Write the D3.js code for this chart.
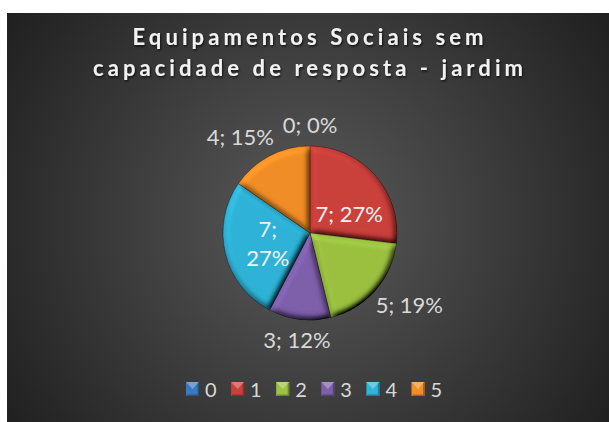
<!DOCTYPE html>
<meta charset="utf-8">
<style>

body {
  margin: 0;
  background: #fff;
}

svg {
  display: block;
  font-family: Lato, "Open Sans", sans-serif;
}

</style>
<svg width="609" height="422"></svg>
<script src="https://d3js.org/d3.v7.min.js"></script>
<script>

var categories = ["0", "1", "2", "3", "4", "5"],
    values = [0, 7, 5, 3, 7, 4],
    colors = ["#3a78c2", "#cc403c", "#9cc241", "#7e5fab", "#2fb4d9", "#f28e26"],
    titleLines = ["Equipamentos Sociais sem", "capacidade de resposta - jardim"];

// where Excel's "best fit" put each label
var labelInside = [false, true, false, false, true, false],
    labelTurn = [0, 16, 0, 0, 0, 0],
    labelNudge = [0, 0, 0, 3, 0, -8],
    labelWrap = [false, false, false, false, true, false];

var svg = d3.select("svg"),
    width = +svg.attr("width"),
    height = +svg.attr("height");

var cx = 310, cy = 233, radius = 87;

var defs = svg.append("defs");

var bg = defs.append("radialGradient")
    .attr("id", "bg")
    .attr("gradientUnits", "userSpaceOnUse")
    .attr("cx", 308).attr("cy", 222).attr("r", 370);
bg.append("stop").attr("offset", 0).attr("stop-color", "#5a5a5a");
bg.append("stop").attr("offset", 1).attr("stop-color", "#1f1f1f");

var bevel = defs.append("filter")
    .attr("id", "bevel")
    .attr("x", "-10%").attr("y", "-10%")
    .attr("width", "120%").attr("height", "120%");
bevel.append("feGaussianBlur")
    .attr("in", "SourceAlpha")
    .attr("stdDeviation", 3)
    .attr("result", "blur");
bevel.append("feDiffuseLighting")
    .attr("in", "blur")
    .attr("surfaceScale", 6)
    .attr("diffuseConstant", 1)
    .attr("lighting-color", "#fff")
    .attr("result", "light")
  .append("feDistantLight")
    .attr("azimuth", 235)
    .attr("elevation", 55);
bevel.append("feComposite")
    .attr("in", "SourceGraphic")
    .attr("in2", "light")
    .attr("operator", "arithmetic")
    .attr("k1", 1.2).attr("k2", 0).attr("k3", 0).attr("k4", 0);

var shadow = defs.append("filter")
    .attr("id", "shadow")
    .attr("x", "-10%").attr("y", "-30%")
    .attr("width", "120%").attr("height", "160%");
shadow.append("feDropShadow")
    .attr("dx", 1).attr("dy", 1.5)
    .attr("stdDeviation", 1.2)
    .attr("flood-color", "#000")
    .attr("flood-opacity", 0.7);

svg.append("rect")
    .attr("x", 7)
    .attr("y", 13)
    .attr("width", width - 7)
    .attr("height", height - 13)
    .attr("fill", "url(#bg)");

// title
var title = svg.append("g")
    .attr("filter", "url(#shadow)")
    .attr("fill", "#f2f2f2")
    .attr("font-weight", "bold")
    .attr("font-size", 22)
    .attr("text-anchor", "middle");

title.selectAll("text")
  .data(titleLines)
  .enter().append("text")
    .attr("x", 308)
    .attr("y", function(d, i) { return 45 + i * 31; })
    .attr("textLength", function(d, i) { return i ? 430 : 351; })
    .attr("lengthAdjust", "spacing")
    .text(function(d) { return d; });

// pie
var total = d3.sum(values),
    percent = d3.format(".0%");

var pie = d3.pie()
    .sort(null)
    .value(function(d) { return d; });

var arc = d3.arc()
    .innerRadius(0)
    .outerRadius(radius);

var arcs = pie(values);

var g = svg.append("g")
    .attr("transform", "translate(" + cx + "," + cy + ")");

g.selectAll("path")
  .data(arcs)
  .enter().append("path")
    .attr("d", arc)
    .attr("fill", function(d, i) { return colors[i]; })
    .attr("stroke", "rgba(0,0,0,0.35)")
    .attr("stroke-width", 0.8)
    .attr("filter", "url(#bevel)");

var label = g.selectAll(".label")
  .data(arcs)
  .enter().append("text")
    .attr("class", "label")
    .attr("font-size", 22)
    .attr("text-anchor", "middle")
    .attr("fill", function(d, i) { return labelInside[i] ? "#f2f2f2" : "#d9d9d9"; });

label.each(function(d, i) {
  var t = d3.select(this),
      txt = values[i] + "; " + percent(values[i] / total),
      a = (d.startAngle + d.endAngle) / 2 + labelTurn[i] * Math.PI / 180,
      s = Math.sin(a), c = Math.cos(a), x, y;

  if (labelWrap[i]) {
    t.selectAll("tspan")
      .data(txt.split(" "))
      .enter().append("tspan")
        .attr("x", 0)
        .attr("dy", function(p, j) { return j ? 29.5 : "0.36em"; })
        .text(function(p) { return p; });
  } else {
    t.text(txt);
  }

  if (labelInside[i]) {
    x = s * radius * 0.5;
    y = -c * radius * 0.5;
  } else {
    var w = this.getComputedTextLength();
    x = s * (radius + 12) + s * w / 2 + labelNudge[i];
    y = -c * (radius + 12) - c * 9;
  }

  if (labelWrap[i]) {
    t.attr("transform", "translate(" + x + "," + (y - 14.75) + ")");
  } else {
    t.attr("x", x).attr("y", y).attr("dy", "0.36em");
  }
});

// legend
var lx = d3.scaleBand()
    .domain(categories)
    .range([186, 186 + 45.1 * categories.length]);

var legend = svg.selectAll(".legend")
  .data(categories)
  .enter().append("g")
    .attr("class", "legend")
    .attr("transform", function(d) { return "translate(" + lx(d) + ",382)"; });

legend.append("rect")
    .attr("width", 13)
    .attr("height", 14)
    .attr("fill", function(d, i) { return colors[i]; });

legend.append("path")
    .attr("d", "M0,0L13,0L6.5,7Z")
    .attr("fill", function(d, i) { return d3.interpolateRgb(colors[i], "#fff")(0.3); });

legend.append("path")
    .attr("d", "M0,14L13,14L13,0L11.5,1.5L11.5,12.5L1.5,12.5Z")
    .attr("fill", function(d, i) { return d3.interpolateRgb(colors[i], "#000")(0.3); });

legend.append("text")
    .attr("x", 19)
    .attr("y", 14.5)
    .attr("font-size", 20)
    .attr("fill", "#d9d9d9")
    .text(function(d) { return d; });

</script>
